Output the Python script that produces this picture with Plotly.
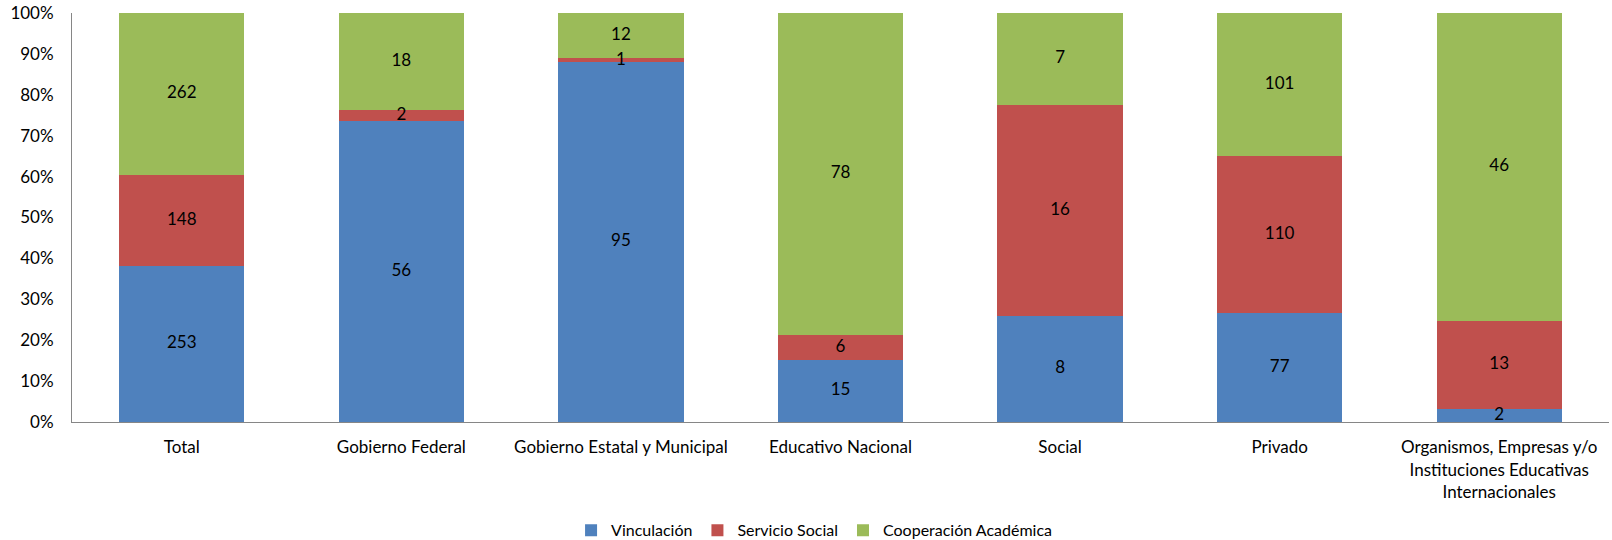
import plotly.graph_objects as go

categories = [
    "Total",
    "Gobierno Federal",
    "Gobierno Estatal y Municipal",
    "Educativo Nacional",
    "Social",
    "Privado",
    "Organismos, Empresas y/o<br>Instituciones Educativas<br>Internacionales",
]
vinculacion = [253, 56, 95, 15, 8, 77, 2]
servicio_social = [148, 2, 1, 6, 16, 110, 13]
cooperacion = [262, 18, 12, 78, 7, 101, 46]

series = [
    ("Vinculación", vinculacion, "#4F81BD"),
    ("Servicio Social", servicio_social, "#C0504D"),
    ("Cooperación Académica", cooperacion, "#9BBB59"),
]

FONT = "Lato, Calibri, 'Open Sans', sans-serif"
SIZE = 17

totals = [sum(col) for col in zip(vinculacion, servicio_social, cooperacion)]

fig = go.Figure()
for name, vals, color in series:
    fig.add_trace(go.Bar(
        name=name,
        x=categories,
        y=vals,
        marker=dict(color=color, line=dict(width=0)),
        hoverinfo="x+y+name",
    ))

# value labels centred in each stacked segment (percent scale)
base = [0.0] * len(categories)
for name, vals, color in series:
    mids = []
    for i, v in enumerate(vals):
        pct = 100.0 * v / totals[i]
        mids.append(base[i] + pct / 2)
        base[i] += pct
    fig.add_trace(go.Scatter(
        x=categories,
        y=mids,
        mode="text",
        text=[str(v) for v in vals],
        textposition="middle center",
        textfont=dict(color="#000000", size=SIZE, family=FONT),
        showlegend=False,
        hoverinfo="skip",
        cliponaxis=False,
    ))

fig.update_layout(
    barmode="stack",
    barnorm="percent",
    bargap=0.43,
    width=1612,
    height=540,
    margin=dict(l=72, r=3, t=13, b=118),
    paper_bgcolor="white",
    plot_bgcolor="white",
    font=dict(family=FONT, size=SIZE, color="#000000"),
    showlegend=True,
    legend=dict(
        orientation="h",
        traceorder="normal",
        xref="container",
        yref="container",
        x=0.505,
        xanchor="center",
        y=0.018,
        yanchor="middle",
        font=dict(size=16, family=FONT),
        itemwidth=30,
    ),
)
fig.update_xaxes(
    showline=True,
    linecolor="#868686",
    linewidth=1,
    ticks="",
    automargin=False,
    ticklabelstandoff=10,
    tickfont=dict(size=SIZE, family=FONT),
)
fig.update_yaxes(
    range=[0, 100],
    tickvals=list(range(0, 101, 10)),
    ticktext=[f"{v}%" for v in range(0, 101, 10)],
    showgrid=False,
    zeroline=False,
    showline=True,
    linecolor="#868686",
    linewidth=1,
    ticks="",
    automargin=False,
    ticklabelstandoff=14,
    tickfont=dict(size=SIZE, family=FONT),
)

fig.write_html("out.html")
